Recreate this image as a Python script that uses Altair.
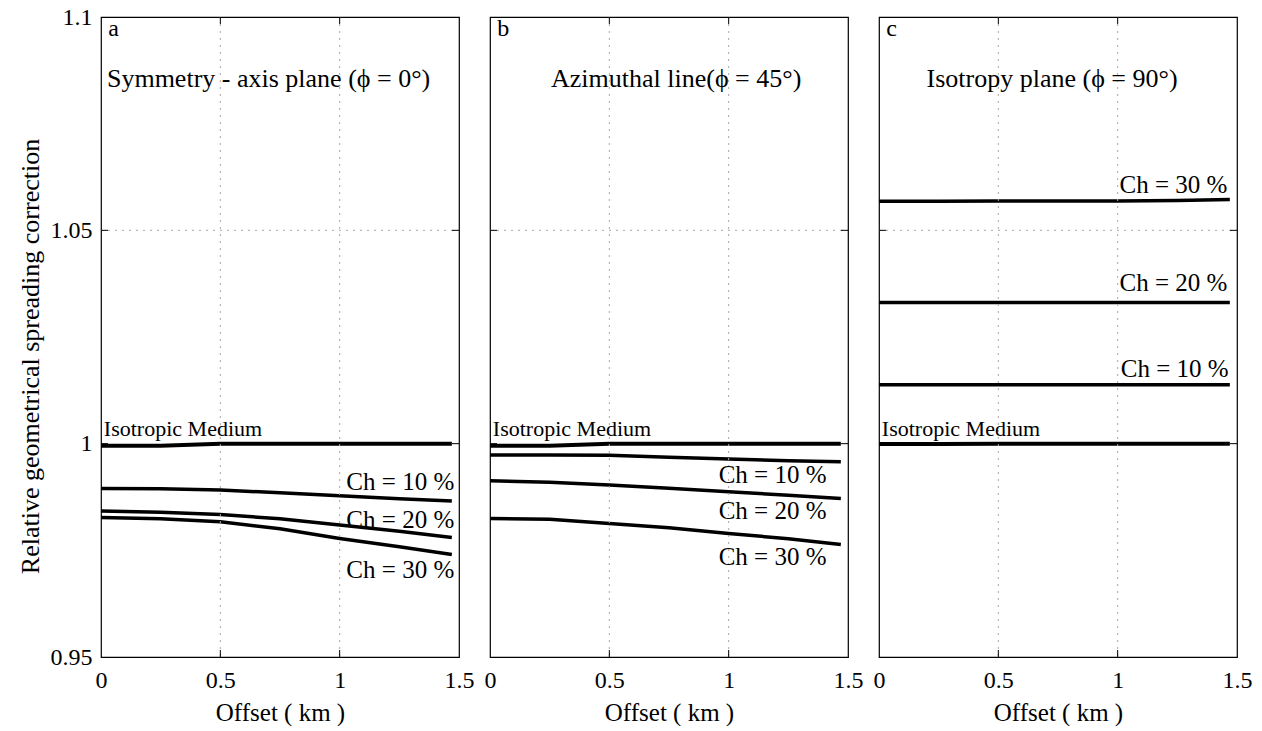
import altair as alt
import pandas as pd

# ---------------- data ----------------
x_km = [0.0, 0.25, 0.5, 0.75, 1.0, 1.25, 1.47]

# panel a: symmetry-axis plane (phi = 0)
a_iso = [0.9995, 0.9995, 1.0, 1.0, 1.0, 1.0, 1.0]
a_ch10 = [0.98951, 0.98944, 0.98913, 0.98850, 0.98779, 0.98709, 0.98655]
a_ch20 = [0.98420, 0.98392, 0.98341, 0.98240, 0.98092, 0.97946, 0.97801]
a_ch30 = [0.98270, 0.98240, 0.98169, 0.98005, 0.97778, 0.97582, 0.97402]

# panel b: azimuthal line (phi = 45)
b_iso = [0.9995, 0.9995, 1.0, 1.0, 1.0, 1.0, 1.0]
b_ch10 = [0.99735, 0.99735, 0.99730, 0.99683, 0.99641, 0.99601, 0.99577]
b_ch20 = [0.99132, 0.99096, 0.99031, 0.98956, 0.98873, 0.98791, 0.98716]
b_ch30 = [0.98247, 0.98228, 0.98129, 0.98029, 0.97895, 0.97771, 0.97637]

# panel c: isotropy plane (phi = 90)
c_iso = [0.9999, 0.9999, 1.0, 1.0, 1.0, 1.0, 1.0]
c_ch10 = [1.0138, 1.0138, 1.0138, 1.0138, 1.0138, 1.0138, 1.0138]
c_ch20 = [1.0331, 1.0331, 1.0331, 1.0331, 1.0331, 1.0331, 1.0331]
c_ch30 = [1.0568, 1.0568, 1.0569, 1.0569, 1.0569, 1.0570, 1.0572]

series_names = ["Isotropic", "Ch10", "Ch20", "Ch30"]
series_widths = [4, 3.5, 3.5, 3.5]

# annotation texts: (text, x, y)
a_letter = ("a", 0.03, 1.0972)
b_letter = ("b", 0.03, 1.0972)
c_letter = ("c", 0.03, 1.0972)
a_title = ("Symmetry - axis plane (ϕ = 0°)", 0.025, 1.0854)
b_title = ("Azimuthal line(ϕ = 45°)", 0.78, 1.0854)
c_title = ("Isotropy plane (ϕ = 90°)", 0.725, 1.0854)
iso_label = ("Isotropic Medium", 0.012, 1.0035)
a_ch_labels = [("Ch = 10 %", 1.48, 0.9909), ("Ch = 20 %", 1.48, 0.9822), ("Ch = 30 %", 1.48, 0.9704)]
b_ch_labels = [("Ch = 10 %", 1.41, 0.9927), ("Ch = 20 %", 1.41, 0.9843), ("Ch = 30 %", 1.41, 0.9735)]
c_ch_labels = [("Ch = 30 %", 1.46, 1.0606), ("Ch = 20 %", 1.46, 1.0376), ("Ch = 10 %", 1.465, 1.0176)]

x_ticks = [0.5, 1.0]
y_ticks = [1.0, 1.05]
x_grid = [0.5, 1.0]
y_grid = [1.05]
x_tick_values = [0, 0.5, 1, 1.5]
y_tick_values = [0.95, 1.0, 1.05, 1.1]

W = 358
H = 640
FONT = "Liberation Serif"
GRID = "#a8a8a8"

xscale = alt.Scale(domain=[0, 1.5], nice=False, zero=False)
yscale = alt.Scale(domain=[0.95, 1.1], nice=False, zero=False)


def make_panel(values, letter, title, title_align, ch_labels, show_y):
    rows = []
    for name, w, vals in zip(series_names, series_widths, values):
        for xv, yv in zip(x_km, vals):
            rows.append({"x": xv, "y": yv, "s": name, "w": w})
    df = pd.DataFrame(rows)

    xaxis = alt.Axis(values=x_tick_values, labelExpr="toString(datum.value)",
                     title="Offset ( km )", grid=False, ticks=False, domain=False,
                     labelFlush=False, labelOverlap=False, labelFontSize=24,
                     labelPadding=11, titleFontSize=25, titlePadding=8,
                     labelColor="black", titleColor="black", titleFontWeight="normal")
    if show_y:
        yaxis = alt.Axis(values=y_tick_values, labelExpr="toString(datum.value)",
                         title="Relative geometrical spreading correction",
                         grid=False, ticks=False, domain=False, labelFlush=False,
                         labelOverlap=False, labelFontSize=24, labelPadding=9,
                         titleFontSize=26, titlePadding=7, titleY=339,
                         labelColor="black", titleColor="black",
                         titleFontWeight="normal")
    else:
        yaxis = alt.Axis(values=y_tick_values, grid=False, ticks=False, domain=False,
                         labels=False, title=None)

    lines = alt.Chart(df).mark_line(color="black", strokeCap="butt").encode(
        x=alt.X("x:Q", scale=xscale, axis=xaxis),
        y=alt.Y("y:Q", scale=yscale, axis=yaxis),
        detail="s:N",
        strokeWidth=alt.StrokeWidth("w:Q", scale=None, legend=None),
    )

    xg = pd.DataFrame({"v": x_grid})
    yg = pd.DataFrame({"v": y_grid})
    xt = pd.DataFrame({"v": x_ticks})
    yt = pd.DataFrame({"v": y_ticks})

    layers = [lines]
    # dotted grid lines
    layers.append(alt.Chart(xg).mark_rule(color=GRID, strokeWidth=1, strokeDash=[2, 5]).encode(
        x=alt.X("v:Q", scale=xscale), y=alt.value(0), y2=alt.value(H)))
    layers.append(alt.Chart(yg).mark_rule(color=GRID, strokeWidth=1, strokeDash=[2, 5]).encode(
        y=alt.Y("v:Q", scale=yscale), x=alt.value(0), x2=alt.value(W)))

    def text_layer(items, align, size, baseline="middle"):
        tdf = pd.DataFrame([{"t": t, "x": xv, "y": yv} for t, xv, yv in items])
        return alt.Chart(tdf).mark_text(align=align, baseline=baseline, fontSize=size,
                                        font=FONT, color="black").encode(
            x=alt.X("x:Q", scale=xscale), y=alt.Y("y:Q", scale=yscale), text="t:N")

    layers += [text_layer([letter], "left", 24),
               text_layer([title], title_align, 26),
               text_layer([iso_label], "left", 22),
               text_layer(ch_labels, "right", 25)]

    # inward tick marks on all four sides
    layers.append(alt.Chart(xt).mark_rule(color="black", strokeWidth=1).encode(
        x=alt.X("v:Q", scale=xscale), y=alt.value(0), y2=alt.value(7)))
    layers.append(alt.Chart(xt).mark_rule(color="black", strokeWidth=1).encode(
        x=alt.X("v:Q", scale=xscale), y=alt.value(H), y2=alt.value(H - 7)))
    layers.append(alt.Chart(yt).mark_rule(color="black", strokeWidth=1).encode(
        y=alt.Y("v:Q", scale=yscale), x=alt.value(0), x2=alt.value(7)))
    layers.append(alt.Chart(yt).mark_rule(color="black", strokeWidth=1).encode(
        y=alt.Y("v:Q", scale=yscale), x=alt.value(W), x2=alt.value(W - 7)))

    return alt.layer(*layers).properties(width=W, height=H)


pa = make_panel([a_iso, a_ch10, a_ch20, a_ch30], a_letter, a_title, "left", a_ch_labels, True)
pb = make_panel([b_iso, b_ch10, b_ch20, b_ch30], b_letter, b_title, "center", b_ch_labels, False)
pc = make_panel([c_iso, c_ch10, c_ch20, c_ch30], c_letter, c_title, "center", c_ch_labels, False)

chart = alt.hconcat(pa, pb, pc, spacing=31, bounds="flush").properties(
    padding={"left": 16, "top": 4, "right": 4, "bottom": 0}
).configure(font=FONT).configure_view(stroke="black", strokeWidth=1.2)

chart.save("out.html", embed_options={"renderer": "svg", "actions": False})
